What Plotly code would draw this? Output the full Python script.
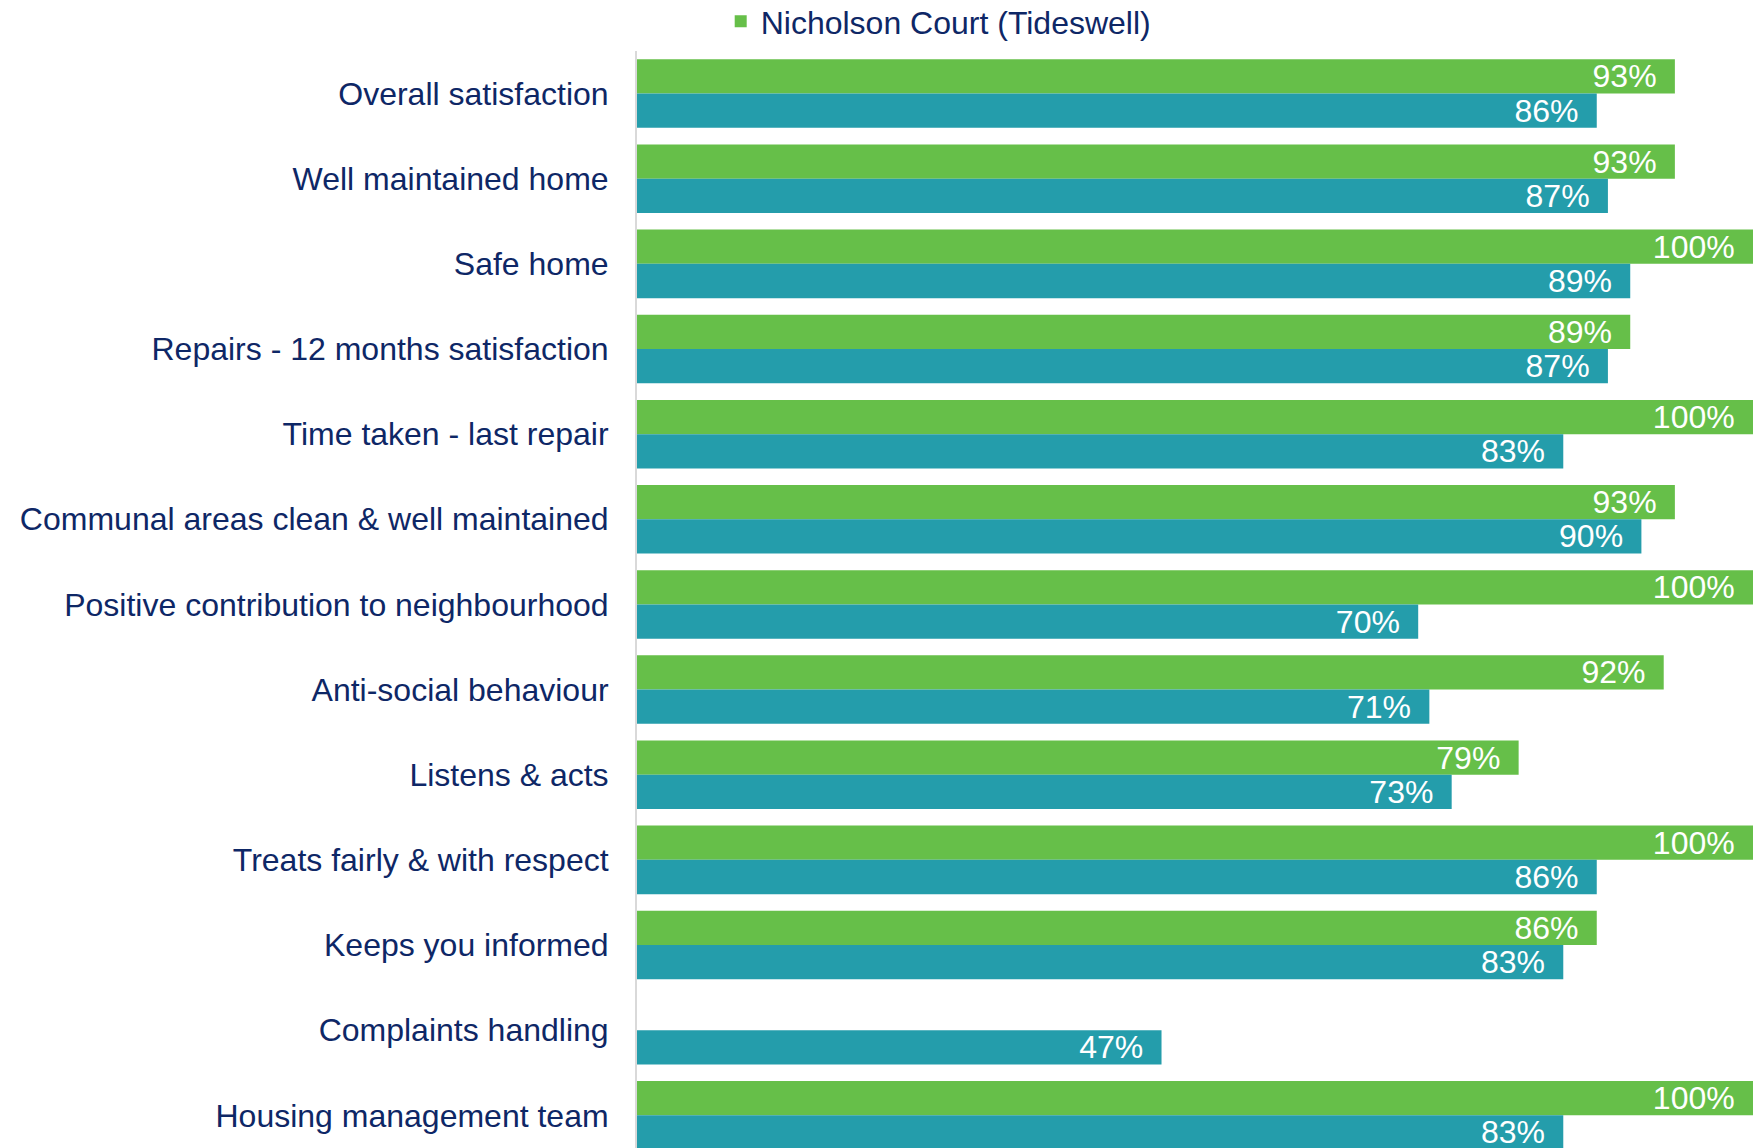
import plotly.graph_objects as go

categories = [
    "Overall satisfaction",
    "Well maintained home",
    "Safe home",
    "Repairs - 12 months satisfaction",
    "Time taken - last repair",
    "Communal areas clean & well maintained",
    "Positive contribution to neighbourhood",
    "Anti-social behaviour",
    "Listens & acts",
    "Treats fairly & with respect",
    "Keeps you informed",
    "Complaints handling",
    "Housing management team",
]
nicholson = [93, 93, 100, 89, 100, 93, 100, 92, 79, 100, 86, None, 100]
overall = [86, 87, 89, 87, 83, 90, 70, 71, 73, 86, 83, 47, 83]

series_names = ["Nicholson Court (Tideswell)", "All residents"]
GREEN = "#66BF49"
TEAL = "#249DAB"
NAVY = "#0E2766"
FONT = "Liberation Sans, Arial, sans-serif"

fig = go.Figure()
fig.add_trace(go.Bar(
    y=categories, x=nicholson, orientation="h", name=series_names[0],
    marker=dict(color=GREEN, line=dict(width=0)),
    texttemplate="%{x}%\u00a0\u2009", textposition="inside", insidetextanchor="end",
    textangle=0, constraintext="none",
    textfont=dict(color="white", size=32, family=FONT),
    showlegend=True,
))
fig.add_trace(go.Bar(
    y=categories, x=overall, orientation="h", name=series_names[1],
    marker=dict(color=TEAL, line=dict(width=0)),
    texttemplate="%{x}%\u00a0\u2009", textposition="inside", insidetextanchor="end",
    textangle=0, constraintext="none",
    textfont=dict(color="white", size=32, family=FONT),
    showlegend=False,
))

fig.update_layout(
    width=1762, height=1148,
    margin=dict(l=637, r=9, t=51, b=0, pad=0, autoexpand=False),
    paper_bgcolor="white", plot_bgcolor="white",
    barmode="group", bargap=0.195, bargroupgap=0,
    font=dict(family=FONT, color=NAVY, size=32),
    legend=dict(
        orientation="h", x=0.075, xanchor="left",
        y=1.027, yanchor="middle",
        font=dict(size=32, color=NAVY, family=FONT),
        bgcolor="rgba(0,0,0,0)", itemwidth=30,
    ),
    xaxis=dict(range=[0, 100], visible=False, showgrid=False, zeroline=False, fixedrange=True),
    yaxis=dict(
        type="category", range=[12.384, -0.5],
        showline=True, linecolor="#D9D9D9", linewidth=2,
        showgrid=False, zeroline=False, ticks="",
        ticklabelstandoff=20,
        tickfont=dict(size=32, color=NAVY, family=FONT),
    ),
)

fig.write_html("out.html", config={"displayModeBar": False},
               post_script="document.body.style.margin='0';")
